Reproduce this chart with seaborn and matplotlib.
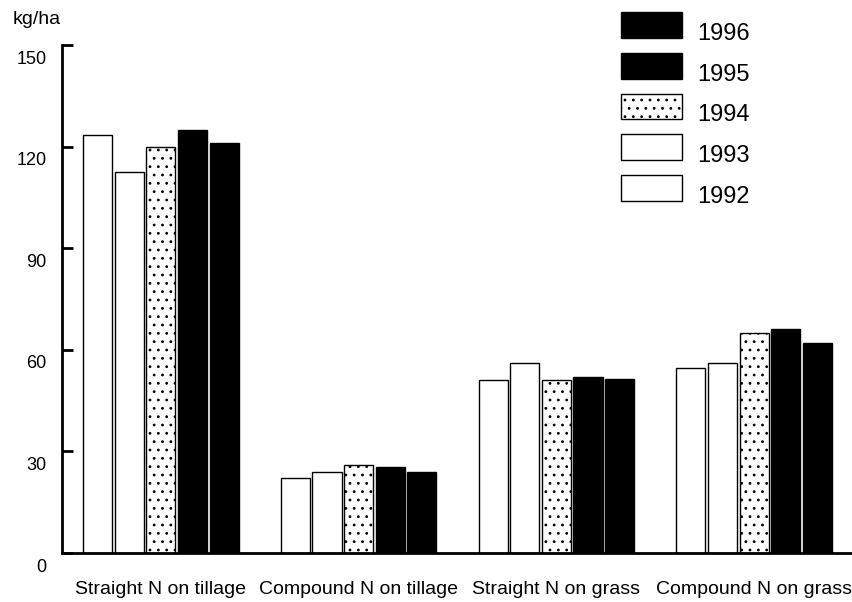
import matplotlib
matplotlib.use("Agg")
import matplotlib.pyplot as plt
import matplotlib.transforms as mtransforms
from matplotlib.patches import Patch
import seaborn as sns
import pandas as pd

categories = ["Straight N on tillage", "Compound N on tillage",
              "Straight N on grass", "Compound N on grass"]
years = ["1992", "1993", "1994", "1995", "1996"]
v1992 = [123.5, 22, 51, 54.7]
v1993 = [112.5, 24, 56, 56]
v1994 = [120, 26, 51, 65]
v1995 = [125, 25.3, 52, 66]
v1996 = [121, 24, 51.3, 62]
yticks = [0, 30, 60, 90, 120, 150]

series = {"1992": v1992, "1993": v1993, "1994": v1994, "1995": v1995, "1996": v1996}
rows = []
for y in years:
    for c, v in zip(categories, series[y]):
        rows.append({"category": c, "year": y, "value": v})
df = pd.DataFrame(rows)

sns.set_style("ticks")
plt.rcParams["font.family"] = ["Liberation Sans", "DejaVu Sans"]
plt.rcParams["hatch.color"] = "black"
plt.rcParams["hatch.linewidth"] = 0.8
plt.rcParams["text.color"] = "black"
plt.rcParams["xtick.color"] = "black"
plt.rcParams["ytick.color"] = "black"
plt.rcParams["xtick.labelcolor"] = "black"
plt.rcParams["ytick.labelcolor"] = "black"
plt.rcParams["axes.edgecolor"] = "black"

palette = {"1992": "white", "1993": "white", "1994": "white",
           "1995": "black", "1996": "black"}

fig = plt.figure(figsize=(8.53, 6.02), dpi=100)
ax = fig.add_axes([62 / 853, 1 - 553 / 602, 1 - 62 / 853, (553 - 45) / 602])

sns.barplot(data=df, x="category", y="value", hue="year", order=categories,
            hue_order=years, palette=palette, edgecolor="black", linewidth=1.0,
            gap=0.08, width=0.8, legend=False, ax=ax, saturation=1)

for i, cont in enumerate(ax.containers):
    if years[i] == "1994":
        for p in cont:
            p.set_hatch("..")

ax.set_xlim(-0.5, 3.5)
ax.set_ylim(0, 150)
ax.set_yticks(yticks)
ax.set_xlabel("")
ax.set_ylabel("")
for s in ["top", "right"]:
    ax.spines[s].set_visible(False)
ax.spines["left"].set_linewidth(2)
ax.spines["bottom"].set_linewidth(2)
ax.spines["left"].set_bounds(0, 150)
ax.tick_params(axis="y", direction="in", length=8, width=2, pad=11, labelsize=13)
ax.tick_params(axis="x", length=0, pad=20, labelsize=14)

offset = mtransforms.ScaledTranslation(0, -12 / 100, fig.dpi_scale_trans)
for lab in ax.get_yticklabels():
    lab.set_transform(lab.get_transform() + offset)

fig.text(13 / 853, 1 - 20 / 602, "kg/ha", fontsize=14, va="center", ha="left")

handles = []
for y in reversed(years):
    h = Patch(facecolor=palette[y], edgecolor="black", linewidth=1.0,
              hatch=".." if y == "1994" else None, label=y)
    handles.append(h)
leg = fig.legend(handles=handles, loc="upper left",
                 bbox_to_anchor=(621 / 853, 1 - 12 / 602), frameon=False,
                 fontsize=17, handlelength=2.58, handleheight=1.31,
                 labelspacing=0.63, handletextpad=0.64, borderpad=0, borderaxespad=0)
loff = mtransforms.ScaledTranslation(0, -7 / 100, fig.dpi_scale_trans)
for t in leg.get_texts():
    t.set_transform(t.get_transform() + loff)

fig.savefig("out.png", dpi=100)
